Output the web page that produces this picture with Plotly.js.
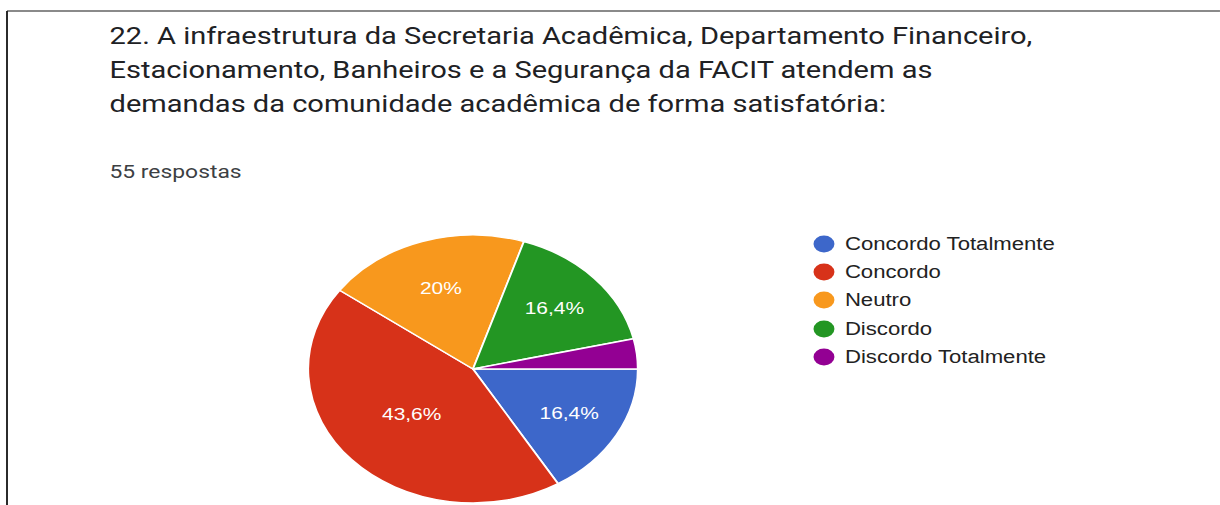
<!DOCTYPE html>
<html>
<head>
<meta charset="utf-8">
<script src="https://cdn.plot.ly/plotly-3.0.1.min.js"></script>
<style>
  html, body { margin: 0; padding: 0; background: #fff; overflow: hidden; width: 1220px; height: 505px; }
  #chart { width: 992px; height: 505px; transform: scaleX(1.2298); transform-origin: 0 0; }
</style>
</head>
<body>
<div id="chart"></div>
<script>
// ---- data ----
const categories = ["Concordo Totalmente", "Concordo", "Neutro", "Discordo", "Discordo Totalmente"];
const counts = [9, 24, 11, 9, 2];
const sliceColors = ["#3d67ca", "#d73219", "#f8981d", "#239623", "#930093"];
const shownLabels = ["%{percent}", "%{percent}", "%{percent}", "%{percent}", ""];
const titleLines = [
  "22. A infraestrutura da Secretaria Acadêmica, Departamento Financeiro,",
  "Estacionamento, Banheiros e a Segurança da FACIT atendem as",
  "demandas da comunidade acadêmica de forma satisfatória:"
];
const responsesText = "55 respostas";

// ---- layout helpers (reference pixel positions -> paper fractions) ----
const W = 1220, H = 505;
const px = x => x / W;
const py = y => 1 - y / H;

const trace = {
  type: "pie",
  labels: categories,
  values: counts,
  sort: false,
  direction: "clockwise",
  rotation: 90,
  marker: { colors: sliceColors, line: { color: "#ffffff", width: 1.5 } },
  texttemplate: shownLabels,
  textposition: "inside",
  insidetextorientation: "horizontal",
  insidetextfont: { family: "Liberation Sans, Arial, sans-serif", size: 17, color: "#ffffff" },
  hoverinfo: "label+percent",
  showlegend: false,
  domain: { x: [px(473) - 134 / 992, px(473) + 134 / 992], y: [py(369) - 134 / H, py(369) + 134 / H] }
};

const annotations = [];
const titleY = [36, 70, 104];
titleLines.forEach((t, i) => annotations.push({
  xref: "paper", yref: "paper", x: px(110), y: py(titleY[i]), xshift: -2.5,
  xanchor: "left", yanchor: "middle", showarrow: false, text: t,
  font: { family: "Roboto, sans-serif", size: 23.6, color: "#202124" }
}));
annotations.push({
  xref: "paper", yref: "paper", x: px(110), y: py(172), xshift: -2.5,
  xanchor: "left", yanchor: "middle", showarrow: false, text: responsesText,
  font: { family: "Roboto, sans-serif", size: 18.6, color: "#3c4043" }
});

const legendRows = [244, 272, 300, 329, 357];
const shapes = [];
const r = 8.5;
categories.forEach((c, i) => {
  const cy = legendRows[i];
  shapes.push({
    type: "circle", xref: "paper", yref: "paper",
    x0: px(824) - r / 992, x1: px(824) + r / 992,
    y0: py(cy) - r / H, y1: py(cy) + r / H,
    fillcolor: sliceColors[i], line: { width: 0 }
  });
  annotations.push({
    xref: "paper", yref: "paper", x: px(845), y: py(cy), xshift: -2.5,
    xanchor: "left", yanchor: "middle", showarrow: false, text: c,
    font: { family: "Liberation Sans, Arial, sans-serif", size: 18, color: "#222222" }
  });
});

// frame lines
shapes.push({ type: "line", xref: "paper", yref: "paper", x0: px(7), x1: 1, y0: py(11), y1: py(11), line: { color: "#8a8a8a", width: 2 } });
shapes.push({ type: "line", xref: "paper", yref: "paper", x0: px(7), x1: px(7), y0: py(11), y1: 0, line: { color: "#1a1a1a", width: 1.5 } });

const layout = {
  width: 992, height: 505,
  margin: { l: 0, r: 0, t: 0, b: 0 },
  paper_bgcolor: "#ffffff",
  separators: ",.",
  showlegend: false,
  annotations: annotations,
  shapes: shapes
};

Plotly.newPlot("chart", [trace], layout, { displayModeBar: false, staticPlot: true });
</script>
</body>
</html>
